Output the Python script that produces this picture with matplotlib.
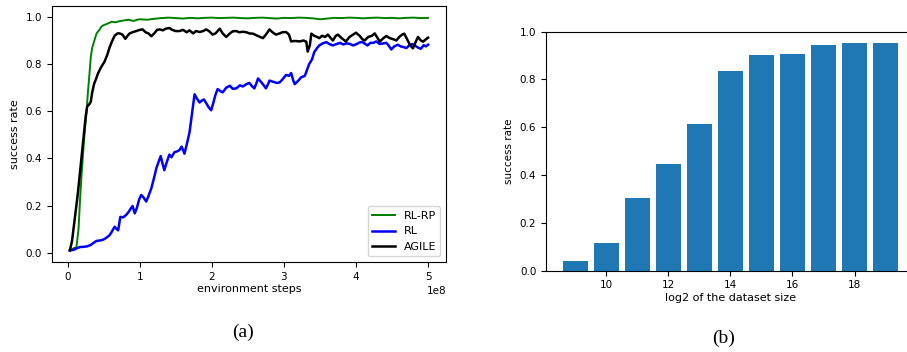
import matplotlib
matplotlib.use('Agg')
import matplotlib.pyplot as plt

# (a) learning curves, x in units of 1e8 environment steps
rlrp_x = [0.03, 0.06, 0.09, 0.12, 0.15, 0.17, 0.19, 0.22, 0.24, 0.26, 0.28, 0.305, 0.32, 0.34,
          0.37, 0.40, 0.44, 0.47, 0.50, 0.54, 0.58, 0.61, 0.66, 0.72, 0.78, 0.84, 0.88, 0.92, 0.96,
          1.0, 1.1, 1.2, 1.3, 1.4, 1.5, 1.6, 1.7, 1.8, 1.9, 2.0, 2.1, 2.2, 2.3, 2.4, 2.5, 2.6, 2.7,
          2.8, 2.9, 3.0, 3.1, 3.2, 3.3, 3.4, 3.5, 3.6, 3.7, 3.8, 3.9, 4.0, 4.1, 4.2, 4.3, 4.4, 4.5,
          4.6, 4.7, 4.8, 4.9, 5.0]
rlrp_y = [0.01, 0.015, 0.02, 0.022, 0.10, 0.22, 0.32, 0.45, 0.53, 0.59, 0.68, 0.77, 0.83, 0.87,
          0.90, 0.93, 0.945, 0.96, 0.965, 0.97, 0.975, 0.98, 0.977, 0.982, 0.985, 0.988, 0.985, 0.983, 0.988,
          0.990, 0.988, 0.992, 0.995, 0.997, 0.995, 0.993, 0.996, 0.994, 0.996, 0.997, 0.995, 0.996, 0.997,
          0.995, 0.994, 0.996, 0.997, 0.995, 0.993, 0.996, 0.995, 0.997, 0.996, 0.994, 0.990, 0.993, 0.996,
          0.995, 0.997, 0.996, 0.994, 0.996, 0.997, 0.995, 0.996, 0.994, 0.996, 0.997, 0.995, 0.996]

rl_x = [0.03, 0.08, 0.12, 0.17, 0.22, 0.27, 0.32, 0.36, 0.40, 0.45, 0.49, 0.53, 0.58, 0.61, 0.65,
        0.68, 0.70, 0.73, 0.77, 0.81, 0.85, 0.88, 0.90, 0.93, 0.96, 0.99, 1.02, 1.05, 1.09, 1.12,
        1.16, 1.20, 1.23, 1.26, 1.29, 1.31, 1.34, 1.37, 1.41, 1.44, 1.48, 1.52, 1.55, 1.58, 1.60,
        1.62, 1.66, 1.69, 1.72, 1.76, 1.79, 1.83, 1.86, 1.89, 1.93, 1.96, 1.99, 2.02, 2.05, 2.08,
        2.12, 2.15, 2.20, 2.25, 2.29, 2.34, 2.39, 2.43, 2.48, 2.52, 2.56, 2.59, 2.62, 2.64, 2.68,
        2.72, 2.75, 2.78, 2.80, 2.85, 2.90, 2.94, 2.98, 3.03, 3.07, 3.10, 3.13, 3.15, 3.20, 3.24,
        3.29, 3.32, 3.35, 3.39, 3.42, 3.46, 3.49, 3.54, 3.59, 3.63, 3.68, 3.73, 3.78, 3.82, 3.87,
        3.92, 3.96, 4.01, 4.05, 4.09, 4.13, 4.16, 4.20, 4.24, 4.28, 4.33, 4.38, 4.42, 4.45, 4.49,
        4.53, 4.58, 4.62, 4.66, 4.70, 4.74, 4.78, 4.81, 4.86, 4.90, 4.94, 4.97, 5.00]
rl_y = [0.01, 0.012, 0.018, 0.024, 0.025, 0.027, 0.033, 0.042, 0.05, 0.052, 0.055, 0.062, 0.074, 0.088, 0.11,
        0.10, 0.095, 0.152, 0.15, 0.16, 0.175, 0.19, 0.198, 0.167, 0.19, 0.225, 0.245, 0.235, 0.217, 0.24,
        0.273, 0.32, 0.359, 0.385, 0.41, 0.385, 0.35, 0.38, 0.416, 0.405, 0.426, 0.43, 0.435, 0.45, 0.435,
        0.42, 0.47, 0.51, 0.58, 0.672, 0.655, 0.637, 0.645, 0.65, 0.63, 0.615, 0.604, 0.635, 0.67, 0.694,
        0.685, 0.68, 0.70, 0.708, 0.695, 0.697, 0.71, 0.705, 0.715, 0.72, 0.705, 0.697, 0.72, 0.739, 0.725,
        0.71, 0.697, 0.715, 0.73, 0.725, 0.72, 0.722, 0.735, 0.754, 0.75, 0.762, 0.73, 0.715, 0.73, 0.744,
        0.75, 0.775, 0.80, 0.82, 0.85, 0.868, 0.879, 0.888, 0.893, 0.885, 0.879, 0.885, 0.89, 0.883, 0.888,
        0.885, 0.879, 0.885, 0.892, 0.893, 0.885, 0.879, 0.89, 0.89, 0.896, 0.885, 0.888, 0.89, 0.88, 0.862,
        0.875, 0.882, 0.875, 0.872, 0.868, 0.88, 0.885, 0.88, 0.87, 0.865, 0.88, 0.875, 0.882]

agile_x = [0.03, 0.06, 0.10, 0.14, 0.17, 0.20, 0.23, 0.25, 0.27, 0.30, 0.32, 0.34, 0.365, 0.39, 0.42,
           0.46, 0.51, 0.55, 0.58, 0.62, 0.65, 0.69, 0.72, 0.76, 0.80, 0.83, 0.86, 0.90, 0.95, 1.00,
           1.04, 1.08, 1.12, 1.16, 1.20, 1.24, 1.28, 1.32, 1.36, 1.41, 1.45, 1.50, 1.55, 1.60, 1.65,
           1.69, 1.74, 1.78, 1.83, 1.88, 1.92, 1.96, 2.01, 2.05, 2.11, 2.15, 2.20, 2.25, 2.29, 2.34,
           2.38, 2.43, 2.48, 2.52, 2.57, 2.62, 2.67, 2.71, 2.75, 2.80, 2.84, 2.89, 2.94, 2.98, 3.03,
           3.07, 3.10, 3.15, 3.22, 3.27, 3.31, 3.33, 3.36, 3.38, 3.42, 3.46, 3.49, 3.53, 3.57, 3.61,
           3.65, 3.68, 3.72, 3.75, 3.80, 3.86, 3.91, 3.96, 4.00, 4.05, 4.09, 4.12, 4.17, 4.22, 4.26,
           4.30, 4.33, 4.38, 4.42, 4.47, 4.52, 4.56, 4.60, 4.64, 4.67, 4.71, 4.75, 4.79, 4.83, 4.86,
           4.90, 4.93, 4.97, 5.00]
agile_y = [0.01, 0.05, 0.15, 0.25, 0.34, 0.43, 0.52, 0.58, 0.62, 0.63, 0.64, 0.68, 0.715, 0.735, 0.76,
           0.785, 0.81, 0.84, 0.87, 0.90, 0.92, 0.93, 0.93, 0.925, 0.907, 0.92, 0.93, 0.935, 0.94, 0.945,
           0.947, 0.935, 0.93, 0.918, 0.93, 0.945, 0.947, 0.943, 0.95, 0.953, 0.945, 0.94, 0.94, 0.945, 0.935,
           0.943, 0.93, 0.94, 0.936, 0.94, 0.947, 0.94, 0.925, 0.93, 0.95, 0.93, 0.915, 0.93, 0.939, 0.94,
           0.935, 0.937, 0.935, 0.93, 0.929, 0.922, 0.915, 0.91, 0.925, 0.947, 0.935, 0.925, 0.93, 0.935, 0.936,
           0.925, 0.896, 0.898, 0.896, 0.90, 0.895, 0.853, 0.88, 0.929, 0.92, 0.915, 0.91, 0.92, 0.915, 0.925,
           0.91, 0.90, 0.92, 0.925, 0.91, 0.896, 0.915, 0.925, 0.933, 0.92, 0.905, 0.90, 0.915, 0.92, 0.93,
           0.91, 0.895, 0.91, 0.919, 0.91, 0.905, 0.90, 0.915, 0.925, 0.929, 0.905, 0.88, 0.867, 0.895, 0.915,
           0.90, 0.895, 0.905, 0.912]

# (b) success rate vs dataset size
log2_sizes = [9, 10, 11, 12, 13, 14, 15, 16, 17, 18, 19]
bar_rates = [0.04, 0.115, 0.303, 0.446, 0.612, 0.834, 0.901, 0.905, 0.943, 0.951, 0.951]

plt.rcParams['xtick.labelsize'] = 7.5
plt.rcParams['ytick.labelsize'] = 7.5

fig = plt.figure(figsize=(9.07, 3.52), dpi=100)

# left panel
ax1 = fig.add_axes([0.0573, 0.2557, 0.4344, 0.7273])
ax1.plot([v * 1e8 for v in rlrp_x], rlrp_y, color='g', lw=1.4, label='RL-RP')
ax1.plot([v * 1e8 for v in rl_x], rl_y, color='b', lw=1.8, label='RL')
ax1.plot([v * 1e8 for v in agile_x], agile_y, color='k', lw=1.8, label='AGILE')
ax1.set_xlabel('environment steps', fontsize=8, labelpad=2)
ax1.set_ylabel('success rate', fontsize=8)
ax1.set_yticks([0.0, 0.2, 0.4, 0.6, 0.8, 1.0])
ax1.xaxis.get_offset_text().set_fontsize(7.5)
ax1.legend(loc='lower right', fontsize=8)

# right panel, runs past the right edge of the figure
ax2 = fig.add_axes([0.602, 0.231, 0.4066, 0.6795])
ax2.bar(log2_sizes, bar_rates, width=0.8, color='#1f77b4')
ax2.set_ylim(0, 1.0)
ax2.set_xticks([10, 12, 14, 16, 18])
ax2.set_xlabel('log2 of the dataset size', fontsize=8, labelpad=2)
ax2.set_ylabel('success rate', fontsize=7.5)

# captions
fig.text(243 / 907, 1 - 332 / 352, '(a)', ha='center', va='center',
         fontsize=14, family='Liberation Serif')
fig.text(724 / 907, 1 - 338 / 352, '(b)', ha='center', va='center',
         fontsize=14, family='Liberation Serif')

plt.savefig('out.png', dpi=100)
